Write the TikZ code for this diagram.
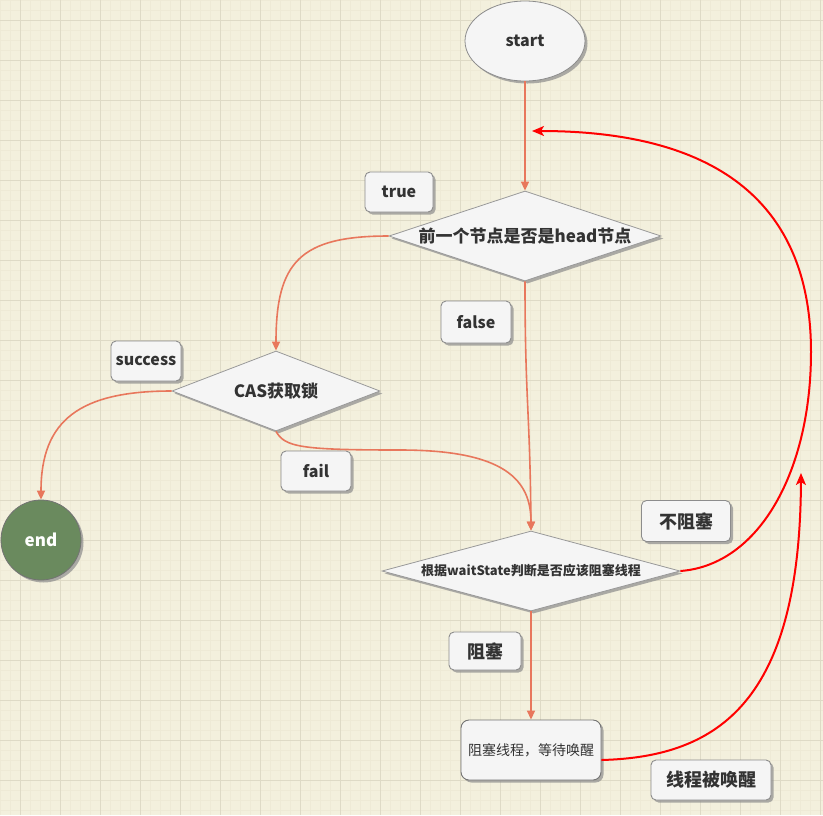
\documentclass[tikz,border=0pt]{standalone}
\usepackage{fontspec}
\setmainfont{Noto Sans CJK SC}
\usetikzlibrary{shapes.geometric,shadows,arrows.meta}
\definecolor{bgc}{HTML}{F3F0DD}
\definecolor{minorg}{HTML}{EEEAD6}
\definecolor{majorg}{HTML}{DEDAC6}
\definecolor{boxf}{HTML}{F5F5F5}
\definecolor{boxd}{HTML}{8C8C8C}
\definecolor{coral}{HTML}{E8775C}
\definecolor{endg}{HTML}{6A8A5E}
\definecolor{txt}{HTML}{333333}
\tikzset{
  shad/.style={drop shadow={shadow xshift=2.5pt,shadow yshift=-2.5pt,fill=black!45,opacity=.7}},
  lbl/.style={draw=boxd,fill=boxf,line width=0.9pt,rounded corners=5pt,shad,inner sep=0pt,text=txt,font=\bfseries},
  dia/.style={diamond,draw=black!40,fill=boxf,line width=0.8pt,shad,inner sep=0pt},
  dtext/.style={text=txt,font=\bfseries\fontsize{17}{20}\selectfont},
  carrow/.style={draw=coral,line width=1.6pt,-{Triangle[length=9pt,width=8pt]}},
  rarrow/.style={draw=red,line width=2pt,-{Stealth[length=12pt,width=10pt,inset=3pt]}}
}
\begin{document}
\begin{tikzpicture}[x=1pt,y=-1pt]
\useasboundingbox (0,0) rectangle (823,815);
\fill[bgc] (0,0) rectangle (823,815);
\foreach \v in {0,10,...,820} {\draw[minorg,line width=0.6pt] (\v,0) -- (\v,815);}
\foreach \v in {0,10,...,810} {\draw[minorg,line width=0.6pt] (0,\v) -- (823,\v);}
\foreach \v in {20,60,...,820} {\draw[majorg,line width=1pt] (\v,0) -- (\v,815);}
\foreach \v in {20,60,...,810} {\draw[majorg,line width=1pt] (0,\v) -- (823,\v);}

% nodes
\node[ellipse,draw=black!45,fill=boxf,line width=0.8pt,shad,minimum width=120pt,minimum height=80pt,inner sep=0pt,text=txt,font=\bfseries\fontsize{16}{19}\selectfont] (start) at (525,41) {start};
\node[dia,minimum width=272pt,minimum height=90pt,label={[dtext]center:前一个节点是否是head节点}] (d1) at (525,236) {};
\node[dia,minimum width=208pt,minimum height=80pt,label={[dtext]center:CAS获取锁}] (cas) at (276,391) {};
\node[dia,minimum width=298pt,minimum height=80pt,label={[text=txt,font=\bfseries\fontsize{13}{16}\selectfont]center:根据waitState判断是否应该阻塞线程}] (d3) at (531,571) {};
\node[circle,draw=black!55,fill=endg,line width=0.8pt,shad,minimum size=80pt,inner sep=0pt,text=white,font=\bfseries\fontsize{17}{20}\selectfont] (endn) at (41,540) {end};
\node[draw=black!55,fill=boxf,line width=0.9pt,rounded corners=8pt,shad,minimum width=140pt,minimum height=60pt,inner sep=0pt,text=txt,font=\fontsize{14}{17}\selectfont] (task) at (531,750) {阻塞线程，等待唤醒};

% labels
\node[lbl,minimum width=68pt,minimum height=40pt,font=\bfseries\fontsize{16}{19}\selectfont] (ltrue) at (399,192) {true};
\node[lbl,minimum width=70pt,minimum height=42pt,font=\bfseries\fontsize{16}{19}\selectfont] (lfalse) at (476,322) {false};
\node[lbl,minimum width=70pt,minimum height=40pt,font=\bfseries\fontsize{16}{19}\selectfont] (lsucc) at (146,361) {success};
\node[lbl,minimum width=70pt,minimum height=40pt,font=\bfseries\fontsize{16}{19}\selectfont] (lfail) at (316,471) {fail};
\node[lbl,minimum width=89pt,minimum height=41pt,font=\bfseries\fontsize{18}{21}\selectfont] (lnb) at (686,521) {不阻塞};
\node[lbl,minimum width=72pt,minimum height=38pt,font=\bfseries\fontsize{18}{21}\selectfont] (lb) at (485,651) {阻塞};
\node[lbl,minimum width=120pt,minimum height=40pt,font=\bfseries\fontsize{18}{21}\selectfont] (lwake) at (711,780) {线程被唤醒};

\coordinate (top) at (532,131);
\coordinate (wake) at (801,473);
\coordinate (tout) at ([yshift=-10pt]task.east);

% connectors
\draw[carrow] (start.south) -- (d1.north);
\draw[carrow] (d1.west) .. controls (300,236) and (276,262) .. (cas.north);
\draw[carrow] (d1.south) .. controls (525,400) and (530,410) .. (d3.north);
\draw[carrow] (cas.west) .. controls (80,391) and (41,420) .. (endn.north);
\draw[carrow] (cas.south) .. controls (285,447) and (300,450) .. (400,450) .. controls (505,450) and (531,480) .. (d3.north);
\draw[carrow] (d3.south) -- (task.north);
\draw[rarrow] (d3.east) .. controls (760,565) and (811,470) .. (811,352) .. controls (811,190) and (700,131) .. (top);
\draw[rarrow] (tout) .. controls (720,757) and (800,700) .. (wake);
\end{tikzpicture}
\end{document}
